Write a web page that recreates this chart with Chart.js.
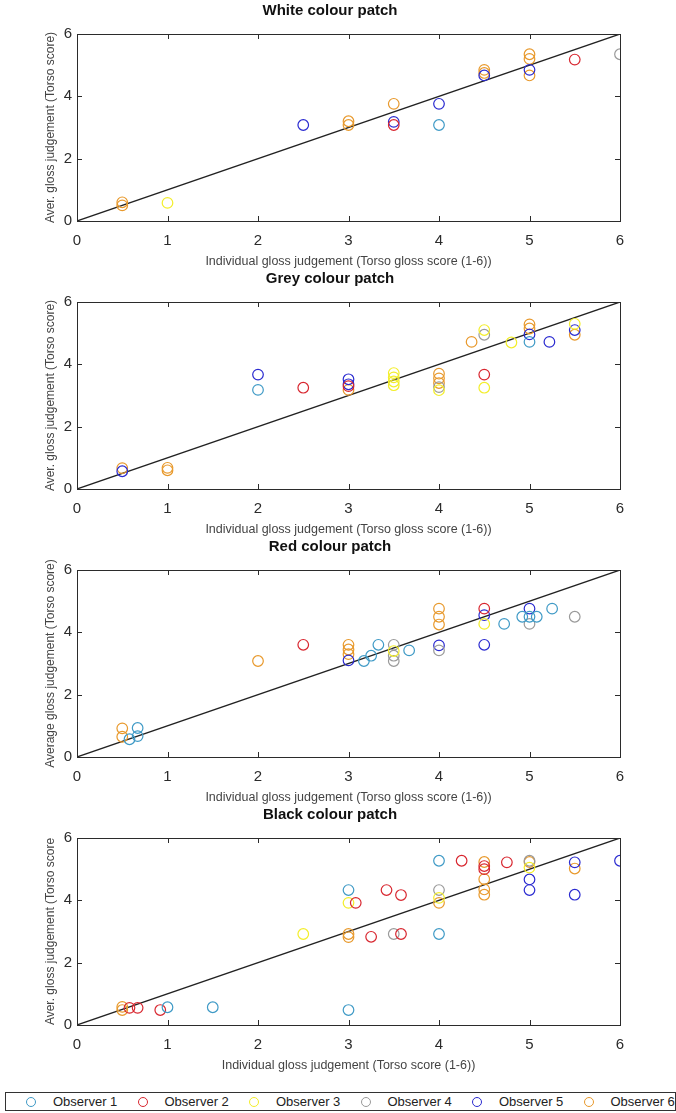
<!DOCTYPE html>
<html lang="en">
<head>
    <meta charset="UTF-8">
    <title>Gloss judgement per colour patch</title>
    <script src="https://cdn.jsdelivr.net/npm/chart.js"></script>
    <style>
        body {
            margin: 0;
            background: #ffffff;
            font-family: 'Liberation Sans', Arial, sans-serif;
        }
        .page {
            position: relative;
            width: 676px;
            height: 1113px;
        }
        .panel {
            position: absolute;
            left: 0;
            width: 676px;
            height: 268px;
        }
        .legend {
            position: absolute;
            left: 5px;
            top: 1092px;
            width: 671px;
            height: 19px;
            border: 1px solid #333;
            box-sizing: border-box;
            display: flex;
            align-items: center;
            font-size: 13px;
            color: #222;
        }
        .legend .item {
            width: 112px;
            display: flex;
            align-items: center;
            padding-left: 20px;
            box-sizing: border-box;
        }
        .legend .dot {
            width: 10px;
            height: 10px;
            border-radius: 50%;
            border: 1.2px solid;
            box-sizing: border-box;
            margin-right: 17px;
        }
    </style>
</head>
<body>
<div class="page">
    <div class="panel" style="top:0px"><canvas id="whiteChart"></canvas></div>
    <div class="panel" style="top:268px"><canvas id="greyChart"></canvas></div>
    <div class="panel" style="top:536px"><canvas id="redChart"></canvas></div>
    <div class="panel" style="top:804px"><canvas id="blackChart"></canvas></div>
    <div class="legend" id="legend"></div>
</div>

<script>
    // observers and their marker colours
    const observers = ['Observer 1', 'Observer 2', 'Observer 3', 'Observer 4', 'Observer 5', 'Observer 6'];
    const observerColors = ['#3f9ac6', '#d8262f', '#f3ee2a', '#9a9a9a', '#2a2ad0', '#e8992c'];

    const xTicks = [0, 1, 2, 3, 4, 5, 6];
    const yTicks = [0, 2, 4, 6];
    const diagLine = [0, 6];

    // White patch: individual score, average score, observer number
    const whiteX = [0.5, 0.5, 1, 2.5, 3, 3, 3.5, 3.5, 3.5, 4, 4, 4.5, 4.5, 4.5, 5, 5, 5, 5, 5.5, 6];
    const whiteY = [0.6, 0.5, 0.58, 3.08, 3.2, 3.08, 3.76, 3.18, 3.08, 3.76, 3.08, 4.85, 4.75, 4.67, 5.35, 5.2, 4.85, 4.67, 5.18, 5.35];
    const whiteObs = [6, 6, 3, 5, 6, 6, 6, 5, 2, 5, 1, 6, 6, 5, 6, 6, 5, 6, 2, 4];

    // Grey patch
    const greyX = [0.5, 0.5, 1, 1, 2, 2, 2.5, 3, 3, 3, 3, 3.5, 3.5, 3.5, 3.5, 4, 4, 4, 4, 4, 4.36, 4.5, 4.5, 4.5, 4.5, 4.8, 5, 5, 5, 5, 5.22, 5.5, 5.5, 5.5];
    const greyY = [0.67, 0.57, 0.68, 0.6, 3.67, 3.18, 3.25, 3.52, 3.36, 3.3, 3.18, 3.72, 3.58, 3.45, 3.33, 3.7, 3.55, 3.4, 3.27, 3.17, 4.72, 5.1, 4.95, 3.67, 3.25, 4.7, 5.28, 5.15, 4.96, 4.72, 4.72, 5.3, 5.1, 4.95];
    const greyObs = [6, 5, 6, 6, 5, 1, 2, 5, 5, 2, 6, 3, 3, 3, 3, 6, 6, 6, 4, 3, 6, 3, 4, 2, 3, 3, 6, 6, 5, 1, 5, 3, 5, 6];

    // Red patch
    const redX = [0.5, 0.5, 0.58, 0.67, 0.67, 2, 2.5, 3, 3, 3, 3, 3.17, 3.25, 3.33, 3.5, 3.5, 3.5, 3.5, 3.67, 4, 4, 4, 4, 4, 4.5, 4.5, 4.5, 4.5, 4.72, 4.92, 5, 5, 5, 5.08, 5.25, 5.5];
    const redY = [0.92, 0.65, 0.57, 0.93, 0.67, 3.08, 3.6, 3.6, 3.45, 3.3, 3.1, 3.08, 3.25, 3.6, 3.6, 3.4, 3.25, 3.08, 3.42, 4.76, 4.5, 4.25, 3.58, 3.42, 4.76, 4.55, 4.27, 3.6, 4.27, 4.5, 4.76, 4.5, 4.27, 4.5, 4.76, 4.5];
    const redObs = [6, 6, 1, 1, 1, 6, 2, 6, 6, 6, 5, 1, 1, 1, 4, 3, 4, 4, 1, 6, 6, 6, 5, 4, 2, 5, 3, 5, 1, 1, 5, 1, 4, 1, 1, 4];

    // Black patch
    const blackX = [0.5, 0.5, 0.58, 0.67, 0.92, 1, 1.5, 2.5, 3, 3, 3, 3, 3, 3.08, 3.25, 3.42, 3.5, 3.58, 3.58, 4, 4, 4, 4, 4, 4.25, 4.5, 4.5, 4.5, 4.5, 4.5, 4.5, 4.75, 5, 5, 5, 5, 5, 5.5, 5.5, 5.5, 6];
    const blackY = [0.58, 0.48, 0.55, 0.55, 0.48, 0.57, 0.57, 2.92, 4.33, 3.92, 2.92, 2.82, 0.48, 3.92, 2.83, 4.33, 2.92, 4.17, 2.92, 5.27, 4.33, 4.08, 3.92, 2.92, 5.27, 5.23, 5.1, 5.0, 4.68, 4.35, 4.18, 5.22, 5.27, 5.23, 5.05, 4.67, 4.33, 5.22, 5.02, 4.18, 5.27];
    const blackObs = [6, 6, 2, 2, 2, 1, 1, 3, 1, 3, 6, 6, 1, 2, 2, 2, 4, 2, 2, 1, 4, 3, 6, 1, 2, 6, 2, 2, 6, 6, 6, 2, 4, 6, 3, 5, 5, 5, 6, 5, 5];

    const panels = [
        { id: 'whiteChart', title: 'White colour patch', x: whiteX, y: whiteY, obs: whiteObs,
          yTitle: 'Aver. gloss judgement (Torso score)', xTitle: 'Individual gloss judgement (Torso gloss score (1-6))' },
        { id: 'greyChart', title: 'Grey colour patch', x: greyX, y: greyY, obs: greyObs,
          yTitle: 'Aver. gloss judgement (Torso score)', xTitle: 'Individual gloss judgement (Torso gloss score (1-6))' },
        { id: 'redChart', title: 'Red colour patch', x: redX, y: redY, obs: redObs,
          yTitle: 'Average gloss judgement (Torso score)', xTitle: 'Individual gloss judgement (Torso gloss score (1-6))' },
        { id: 'blackChart', title: 'Black colour patch', x: blackX, y: blackY, obs: blackObs,
          yTitle: 'Aver. gloss judgement (Torso score', xTitle: 'Individual gloss judgement (Torso score (1-6))' }
    ];

    const axisColor = '#2b2b2b';
    const sans = "'Liberation Sans', Arial, sans-serif";

    // box around the plot with inward ticks on all four sides
    const matlabBox = {
        id: 'matlabBox',
        afterDatasetsDraw(chart) {
            const { ctx, chartArea: a, scales } = chart;
            ctx.save();
            ctx.strokeStyle = axisColor;
            ctx.lineWidth = 1;
            ctx.strokeRect(a.left + 0.5, a.top + 0.5, a.right - a.left, a.bottom - a.top);
            ctx.beginPath();
            xTicks.forEach(v => {
                const px = Math.round(scales.x.getPixelForValue(v)) + 0.5;
                ctx.moveTo(px, a.bottom); ctx.lineTo(px, a.bottom - 5);
                ctx.moveTo(px, a.top); ctx.lineTo(px, a.top + 5);
            });
            yTicks.forEach(v => {
                const py = Math.round(scales.y.getPixelForValue(v)) + 0.5;
                ctx.moveTo(a.left, py); ctx.lineTo(a.left + 5, py);
                ctx.moveTo(a.right, py); ctx.lineTo(a.right - 5, py);
            });
            ctx.stroke();
            ctx.restore();
        }
    };

    panels.forEach(p => {
        const datasets = observers.map((name, i) => {
            const pts = [];
            p.obs.forEach((o, k) => { if (o === i + 1) pts.push({ x: p.x[k], y: p.y[k] }); });
            return {
                type: 'scatter',
                label: name,
                data: pts,
                borderColor: observerColors[i],
                backgroundColor: 'rgba(0,0,0,0)',
                pointRadius: 5.3,
                pointBorderWidth: 1.2,
                pointStyle: 'circle'
            };
        });
        datasets.push({
            type: 'line',
            label: 'y = x',
            data: diagLine.map(v => ({ x: v, y: v })),
            borderColor: '#222',
            borderWidth: 1.3,
            pointRadius: 0,
            fill: false
        });

        new Chart(document.getElementById(p.id), {
            data: { datasets: datasets },
            plugins: [matlabBox],
            options: {
                responsive: true,
                maintainAspectRatio: false,
                animation: false,
                layout: { padding: { left: 40, right: 56, top: 0, bottom: 0 } },
                plugins: {
                    legend: { display: false },
                    tooltip: { enabled: false },
                    title: {
                        display: true,
                        text: p.title,
                        color: '#111',
                        font: { family: sans, size: 15, weight: 'bold' },
                        padding: { top: 2, bottom: 14 }
                    }
                },
                scales: {
                    x: {
                        type: 'linear',
                        min: 0, max: 6,
                        afterBuildTicks: s => { s.ticks = xTicks.map(v => ({ value: v })); },
                        afterFit: s => { s.height = 47; },
                        grid: { display: false, drawTicks: false, tickLength: 0 },
                        border: { display: false },
                        ticks: { color: axisColor, padding: 11, font: { family: sans, size: 15 } },
                        title: {
                            display: true,
                            text: p.xTitle,
                            color: '#444',
                            padding: { top: 0, bottom: -1 },
                            font: { family: sans, size: 12.5 }
                        }
                    },
                    y: {
                        type: 'linear',
                        min: 0, max: 6,
                        afterBuildTicks: s => { s.ticks = yTicks.map(v => ({ value: v })); },
                        afterFit: s => { s.width = 37; },
                        grid: { display: false, drawTicks: false, tickLength: 0 },
                        border: { display: false },
                        ticks: { color: axisColor, padding: 5, font: { family: sans, size: 15 } },
                        title: {
                            display: true,
                            text: p.yTitle,
                            color: '#444',
                            padding: { top: 3, bottom: 0 },
                            font: { family: sans, size: 12 }
                        }
                    }
                }
            }
        });
    });

    // legend row under the last panel
    const legendEl = document.getElementById('legend');
    observers.forEach((name, i) => {
        const item = document.createElement('div');
        item.className = 'item';
        const dot = document.createElement('span');
        dot.className = 'dot';
        dot.style.borderColor = observerColors[i];
        item.appendChild(dot);
        item.appendChild(document.createTextNode(name));
        legendEl.appendChild(item);
    });
</script>
</body>
</html>
